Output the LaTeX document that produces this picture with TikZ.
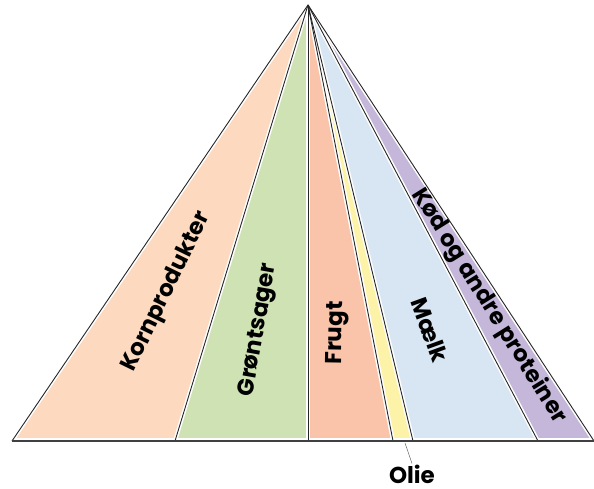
\documentclass[tikz,border=0pt]{standalone}
\usepackage{fontspec}
\setmainfont{Poppins}
\usepackage{tkz-euclide}
\tikzset{>=stealth}
\definecolor{korn}{RGB}{252,217,191}
\definecolor{gron}{RGB}{207,226,180}
\definecolor{frugt}{RGB}{249,196,170}
\definecolor{olie}{RGB}{253,243,168}
\definecolor{maelk}{RGB}{215,230,242}
\definecolor{kod}{RGB}{196,183,218}
\tikzset{
  felt/.style={rotate=#1, inner sep=1pt, font=\fontsize{23}{27}\selectfont\bfseries},
  skille/.style={line width=0.9pt, black!85},
}

\begin{document}
\begin{tikzpicture}[x=1pt,y=1pt]
    \useasboundingbox (0,0) rectangle (594,489);
    \tkzDefPoints{308/484/A, 12/48/B0, 175/48/B1, 308/48/B2, 393/48/B3, 413/48/B4, 538/48/B5, 594/48/B6}
    \fill[korn] (A) -- (B0) -- (B1) -- cycle;
    \fill[gron] (A) -- (B1) -- (B2) -- cycle;
    \fill[frugt] (A) -- (B2) -- (B3) -- cycle;
    \fill[olie] (A) -- (B3) -- (B4) -- cycle;
    \fill[maelk] (A) -- (B4) -- (B5) -- cycle;
    \fill[kod] (A) -- (B5) -- (B6) -- cycle;
    % hvide kanter langs stregerne
    \foreach \p in {B0,B1,B2,B3,B4,B5,B6}
        \draw[white, line width=4pt] (A) -- (\p);
    \draw[white, line width=6pt] (B0) -- (B6);
    \foreach \p in {B0,B1,B2,B3,B4,B5,B6}
        \draw[skille] (A) -- (\p);
    \draw[line width=1.3pt, black!75] (B0) -- (B6);
    \node[felt=64] (korn) at (167,197) {Kornprodukter};
    \node[felt=80] (gront) at (259,159) {Grøntsager};
    \node[felt=89] (frugt) at (337,156) {Frugt};
    \node[felt=-70] (maelk) at (430,159) {Mælk};
    \node[felt=-58] (kod) at (489,183) {Kød og andre proteiner};
    \node[felt=0] (olietekst) at (412,15) {Olie};
    \coordinate (oliepil) at (405,46);
    \draw[black!70] (oliepil) -- (olietekst.north);
\end{tikzpicture}
\end{document}
